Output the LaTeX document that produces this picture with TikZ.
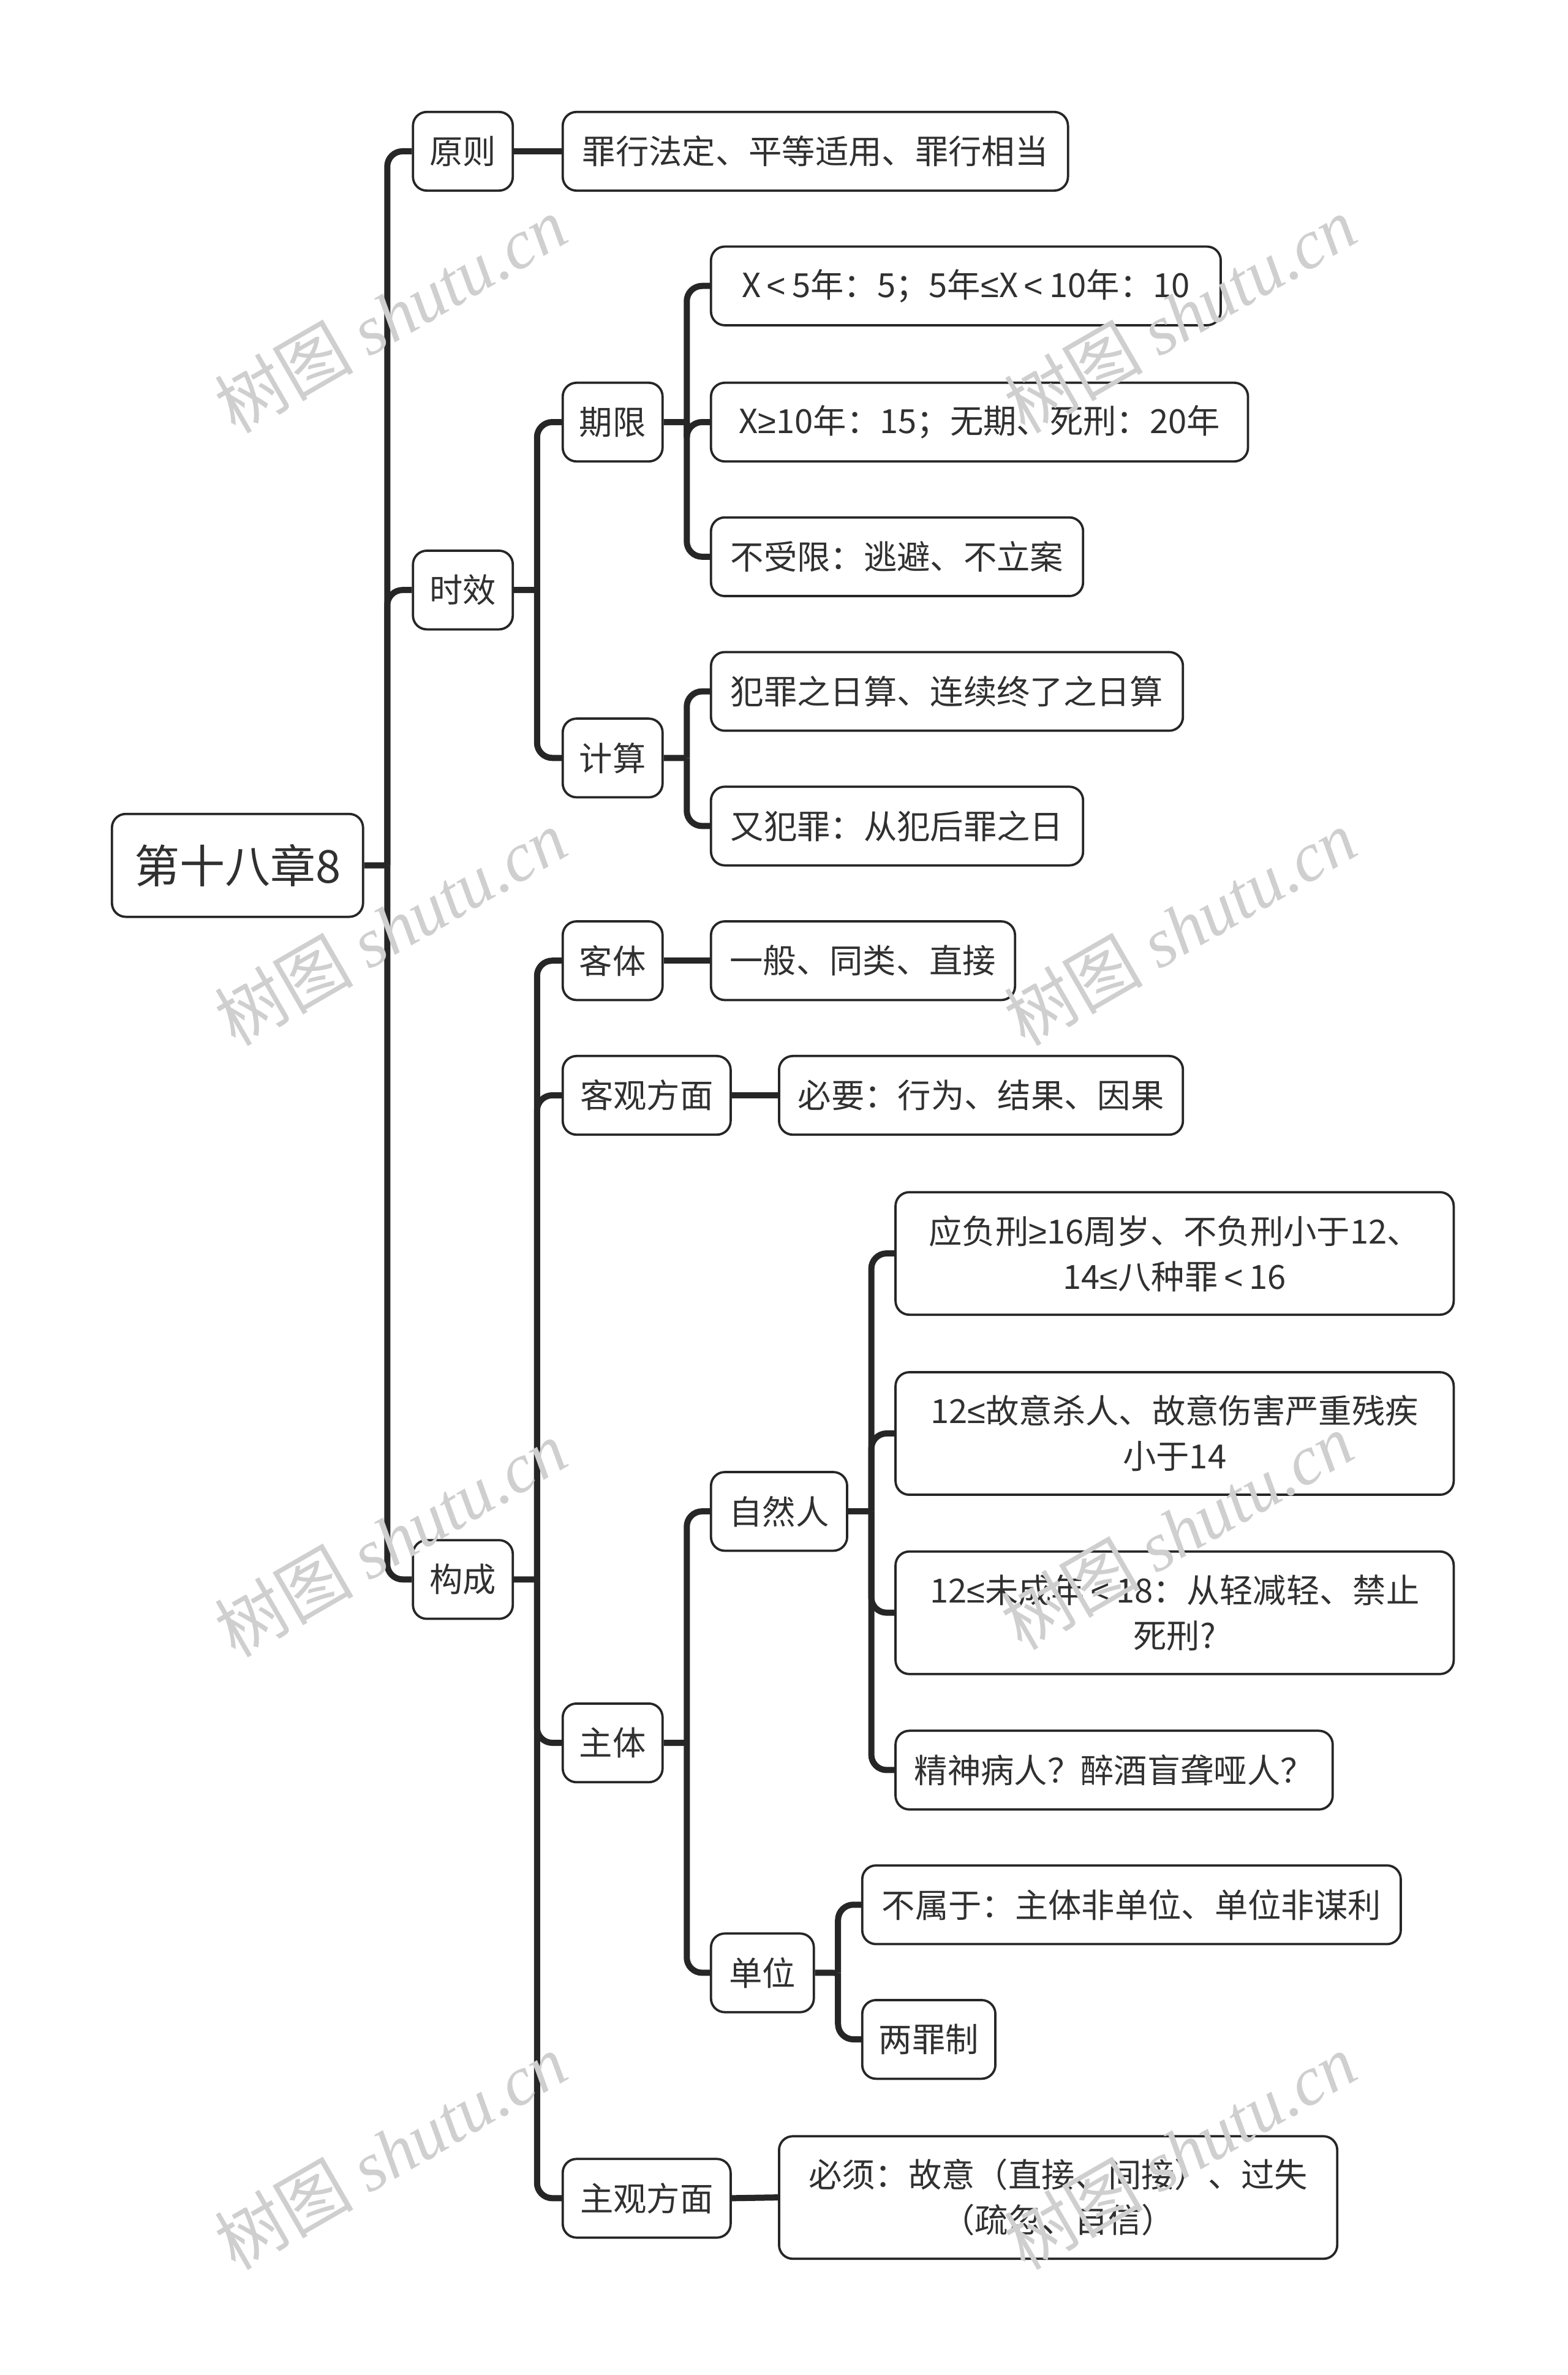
\documentclass[tikz,border=0pt]{standalone}
\usepackage{fontspec}
\setmainfont{Noto Sans CJK SC}
\newfontfamily\wmserif{Liberation Serif}
\newfontfamily\libsans{Liberation Sans}
\newcommand\mylte{{\libsans ≤}}
\newcommand\mygte{{\libsans ≥}}
\newcommand\mylt{\hspace{0.18em}{\libsans <}\hspace{0.18em}}
\definecolor{linec}{HTML}{262626}
\definecolor{textc}{HTML}{303030}
\definecolor{wmc}{HTML}{CFCFCF}
\begin{document}
\begin{tikzpicture}[x=0.5pt,y=-0.5pt,
  box/.style={draw=linec, line width=0.75pt, rounded corners=4.5pt, fill=white, text=textc,
    font=\fontsize{11}{15}\selectfont, inner sep=0pt, minimum height=26pt, align=center},
  tall/.style={minimum height=40.5pt},
  conn/.style={draw=linec, line width=2pt, rounded corners=5pt},
  wm/.style={text=wmc, font=\fontsize{23}{26}\selectfont, rotate=30, inner sep=0pt}]
\useasboundingbox[fill=white] (0,0) rectangle (1024,1551);
\begin{scope}[scale=0.988, transform shape]
% nodes
\node[box, minimum width=83pt, minimum height=34pt, font=\fontsize{15}{18}\selectfont] (root) at (157,572) {第十八章8};
\node[box, minimum width=33pt] (yz) at (306,100) {原则};
\node[box, minimum width=167pt] (yz1) at (539,100) {罪行法定、平等适用、罪行相当};
\node[box, minimum width=33pt] (sx) at (306,390) {时效};
\node[box, minimum width=33pt] (qx) at (405,279) {期限};
\node[box, minimum width=168.5pt] (qx1) at (638.5,189) {X\mylt 5年：5；5年\mylte X\mylt 10年：10};
\node[box, minimum width=177.5pt] (qx2) at (647.5,279) {X\mygte 10年：15；无期、死刑：20年};
\node[box, minimum width=123pt] (qx3) at (593,368) {不受限：逃避、不立案};
\node[box, minimum width=33pt] (js) at (405,501) {计算};
\node[box, minimum width=156pt] (js1) at (626,457) {犯罪之日算、连续终了之日算};
\node[box, minimum width=123pt] (js2) at (593,546) {又犯罪：从犯后罪之日};
\node[box, minimum width=33pt] (gc) at (306,1044) {构成};
\node[box, minimum width=33pt] (kt) at (405,635) {客体};
\node[box, minimum width=100.5pt] (kt1) at (570.5,635) {一般、同类、直接};
\node[box, minimum width=55.5pt] (kg) at (427.5,724) {客观方面};
\node[box, minimum width=133.5pt] (kg1) at (648.5,724) {必要：行为、结果、因果};
\node[box, minimum width=33pt] (zt) at (405,1152) {主体};
\node[box, minimum width=45pt] (zr) at (515,999) {自然人};
\node[box, tall, minimum width=184.5pt] (zr1) at (776.5,828.5) {应负刑\mygte 16周岁、不负刑小于12、\\14\mylte 八种罪\mylt 16};
\node[box, tall, minimum width=184.5pt] (zr2) at (776.5,947.5) {12\mylte 故意杀人、故意伤害严重残疾\\小于14};
\node[box, tall, minimum width=184.5pt] (zr3) at (776.5,1066) {12\mylte 未成年\mylt 18：从轻减轻、禁止\\死刑?};
\node[box, minimum width=144.5pt] (zr4) at (736.5,1170) {精神病人？醉酒盲聋哑人？};
\node[box, minimum width=34pt] (dw) at (504,1304) {单位};
\node[box, minimum width=178pt] (dw1) at (748,1259) {不属于：主体非单位、单位非谋利};
\node[box, minimum width=44pt] (dw2) at (614,1348) {两罪制};
\node[box, minimum width=55.5pt] (zg) at (427.5,1453) {主观方面};
\node[box, tall, minimum width=184.5pt] (zg1) at (699.5,1452.5) {必须：故意（直接、间接）、过失\\（疏忽、自信）};

% connectors
\draw[conn] (root.east) -- (256,572);
\foreach \c in {yz,sx,gc} \draw[conn] (256,572) |- (\c.west);
\draw[conn] (yz.east) -- (yz1.west);
\draw[conn] (sx.east) -- (355,390);
\foreach \c in {qx,js} \draw[conn] (355,390) |- (\c.west);
\draw[conn] (qx.east) -- (454,279);
\foreach \c in {qx1,qx2,qx3} \draw[conn] (454,279) |- (\c.west);
\draw[conn] (js.east) -- (454,501);
\foreach \c in {js1,js2} \draw[conn] (454,501) |- (\c.west);
\draw[conn] (gc.east) -- (355,1044);
\foreach \c in {kt,kg,zt,zg} \draw[conn] (355,1044) |- (\c.west);
\draw[conn] (kt.east) -- (kt1.west);
\draw[conn] (kg.east) -- (kg1.west);
\draw[conn] (zg.east) -- (zg1.west);
\draw[conn] (zt.east) -- (454,1152);
\foreach \c in {zr,dw} \draw[conn] (454,1152) |- (\c.west);
\draw[conn] (zr.east) -- (576,999);
\foreach \c in {zr1,zr2,zr3,zr4} \draw[conn] (576,999) |- (\c.west);
\draw[conn] (dw.east) -- (554,1304);
\foreach \c in {dw1,dw2} \draw[conn] (554,1304) |- (\c.west);

% watermarks
\foreach \p [count=\i] in {(258,208),(780,208),(258,613),(780,613),(258,1017),(778,1012),(258,1422),(780,1422)}
  \node[wm] (wm\i) at \p {树图 {\wmserif\itshape shutu.cn}};
\end{scope}
\end{tikzpicture}
\end{document}
